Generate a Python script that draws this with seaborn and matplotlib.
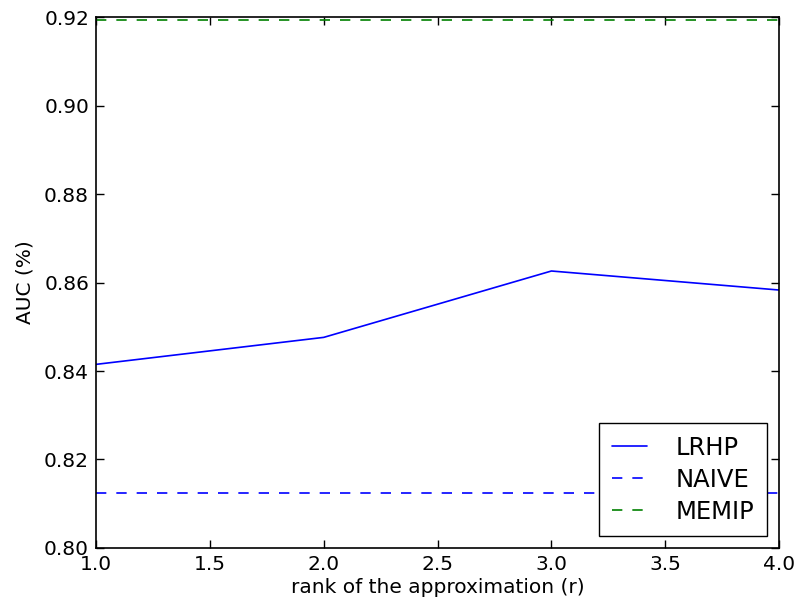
import numpy as np
import pandas as pd
import seaborn as sns
from matplotlib import pyplot as plt

# значения
ranks = [1.0, 2.0, 3.0, 4.0]
auc_lrhp = [0.8415, 0.8476, 0.8626, 0.8583]
auc_naive = 0.8125
auc_memip = 0.9193

sns.set_style('ticks')
plt.rcParams['font.family'] = ['DejaVu Sans']
plt.rcParams['xtick.direction'] = 'in'
plt.rcParams['ytick.direction'] = 'in'
plt.rcParams['text.color'] = 'black'
plt.rcParams['axes.labelcolor'] = 'black'
plt.rcParams['xtick.color'] = 'black'
plt.rcParams['ytick.color'] = 'black'

data = pd.DataFrame({'r': ranks,
                     'LRHP': auc_lrhp,
                     'NAIVE': [auc_naive] * len(ranks),
                     'MEMIP': [auc_memip] * len(ranks)})

fig = plt.figure(figsize = (7.95, 6.08), dpi = 100)
ax = fig.add_axes([0.1208, 0.0987, 0.8592, 0.8733])

dash = (0, (6.2, 6))
sns.lineplot(data = data, x = 'r', y = 'LRHP', color = 'blue', lw = 1.2, label = 'LRHP', ax = ax)
sns.lineplot(data = data, x = 'r', y = 'NAIVE', color = 'blue', lw = 1.2, ls = dash, label = 'NAIVE', ax = ax)
sns.lineplot(data = data, x = 'r', y = 'MEMIP', color = 'green', lw = 1.2, ls = dash, label = 'MEMIP', ax = ax)

ax.set_xlim(1.0, 4.0)
ax.set_ylim(0.80, 0.92)
xt = np.arange(1.0, 4.01, 0.5)
yt = np.arange(0.80, 0.921, 0.02)
ax.set_xticks(xt)
ax.set_yticks(yt)
ax.set_xticklabels(['%.1f' % t for t in xt])
ax.set_yticklabels(['%.2f' % t for t in yt])
ax.tick_params(axis = 'both', labelsize = 14.5, length = 6, width = 1, top = True, right = True, pad = 5)
for s in ax.spines.values():
    s.set_color('black')
    s.set_linewidth(1.2)

ax.set_xlabel('rank of the approximation (r)', fontsize = 14.5, labelpad = 3)
ax.set_ylabel('AUC (%)', fontsize = 14.5, labelpad = 7)

leg = ax.legend(loc = 'lower right', prop = {'size': 17.5}, fancybox = False,
                framealpha = 1, edgecolor = 'black', borderaxespad = 0.5,
                handlelength = 1.45, handletextpad = 1.2, borderpad = 0.5,
                labelspacing = 0.33)
leg.get_frame().set_linewidth(1.0)

plt.savefig('out.png', dpi = 100)
